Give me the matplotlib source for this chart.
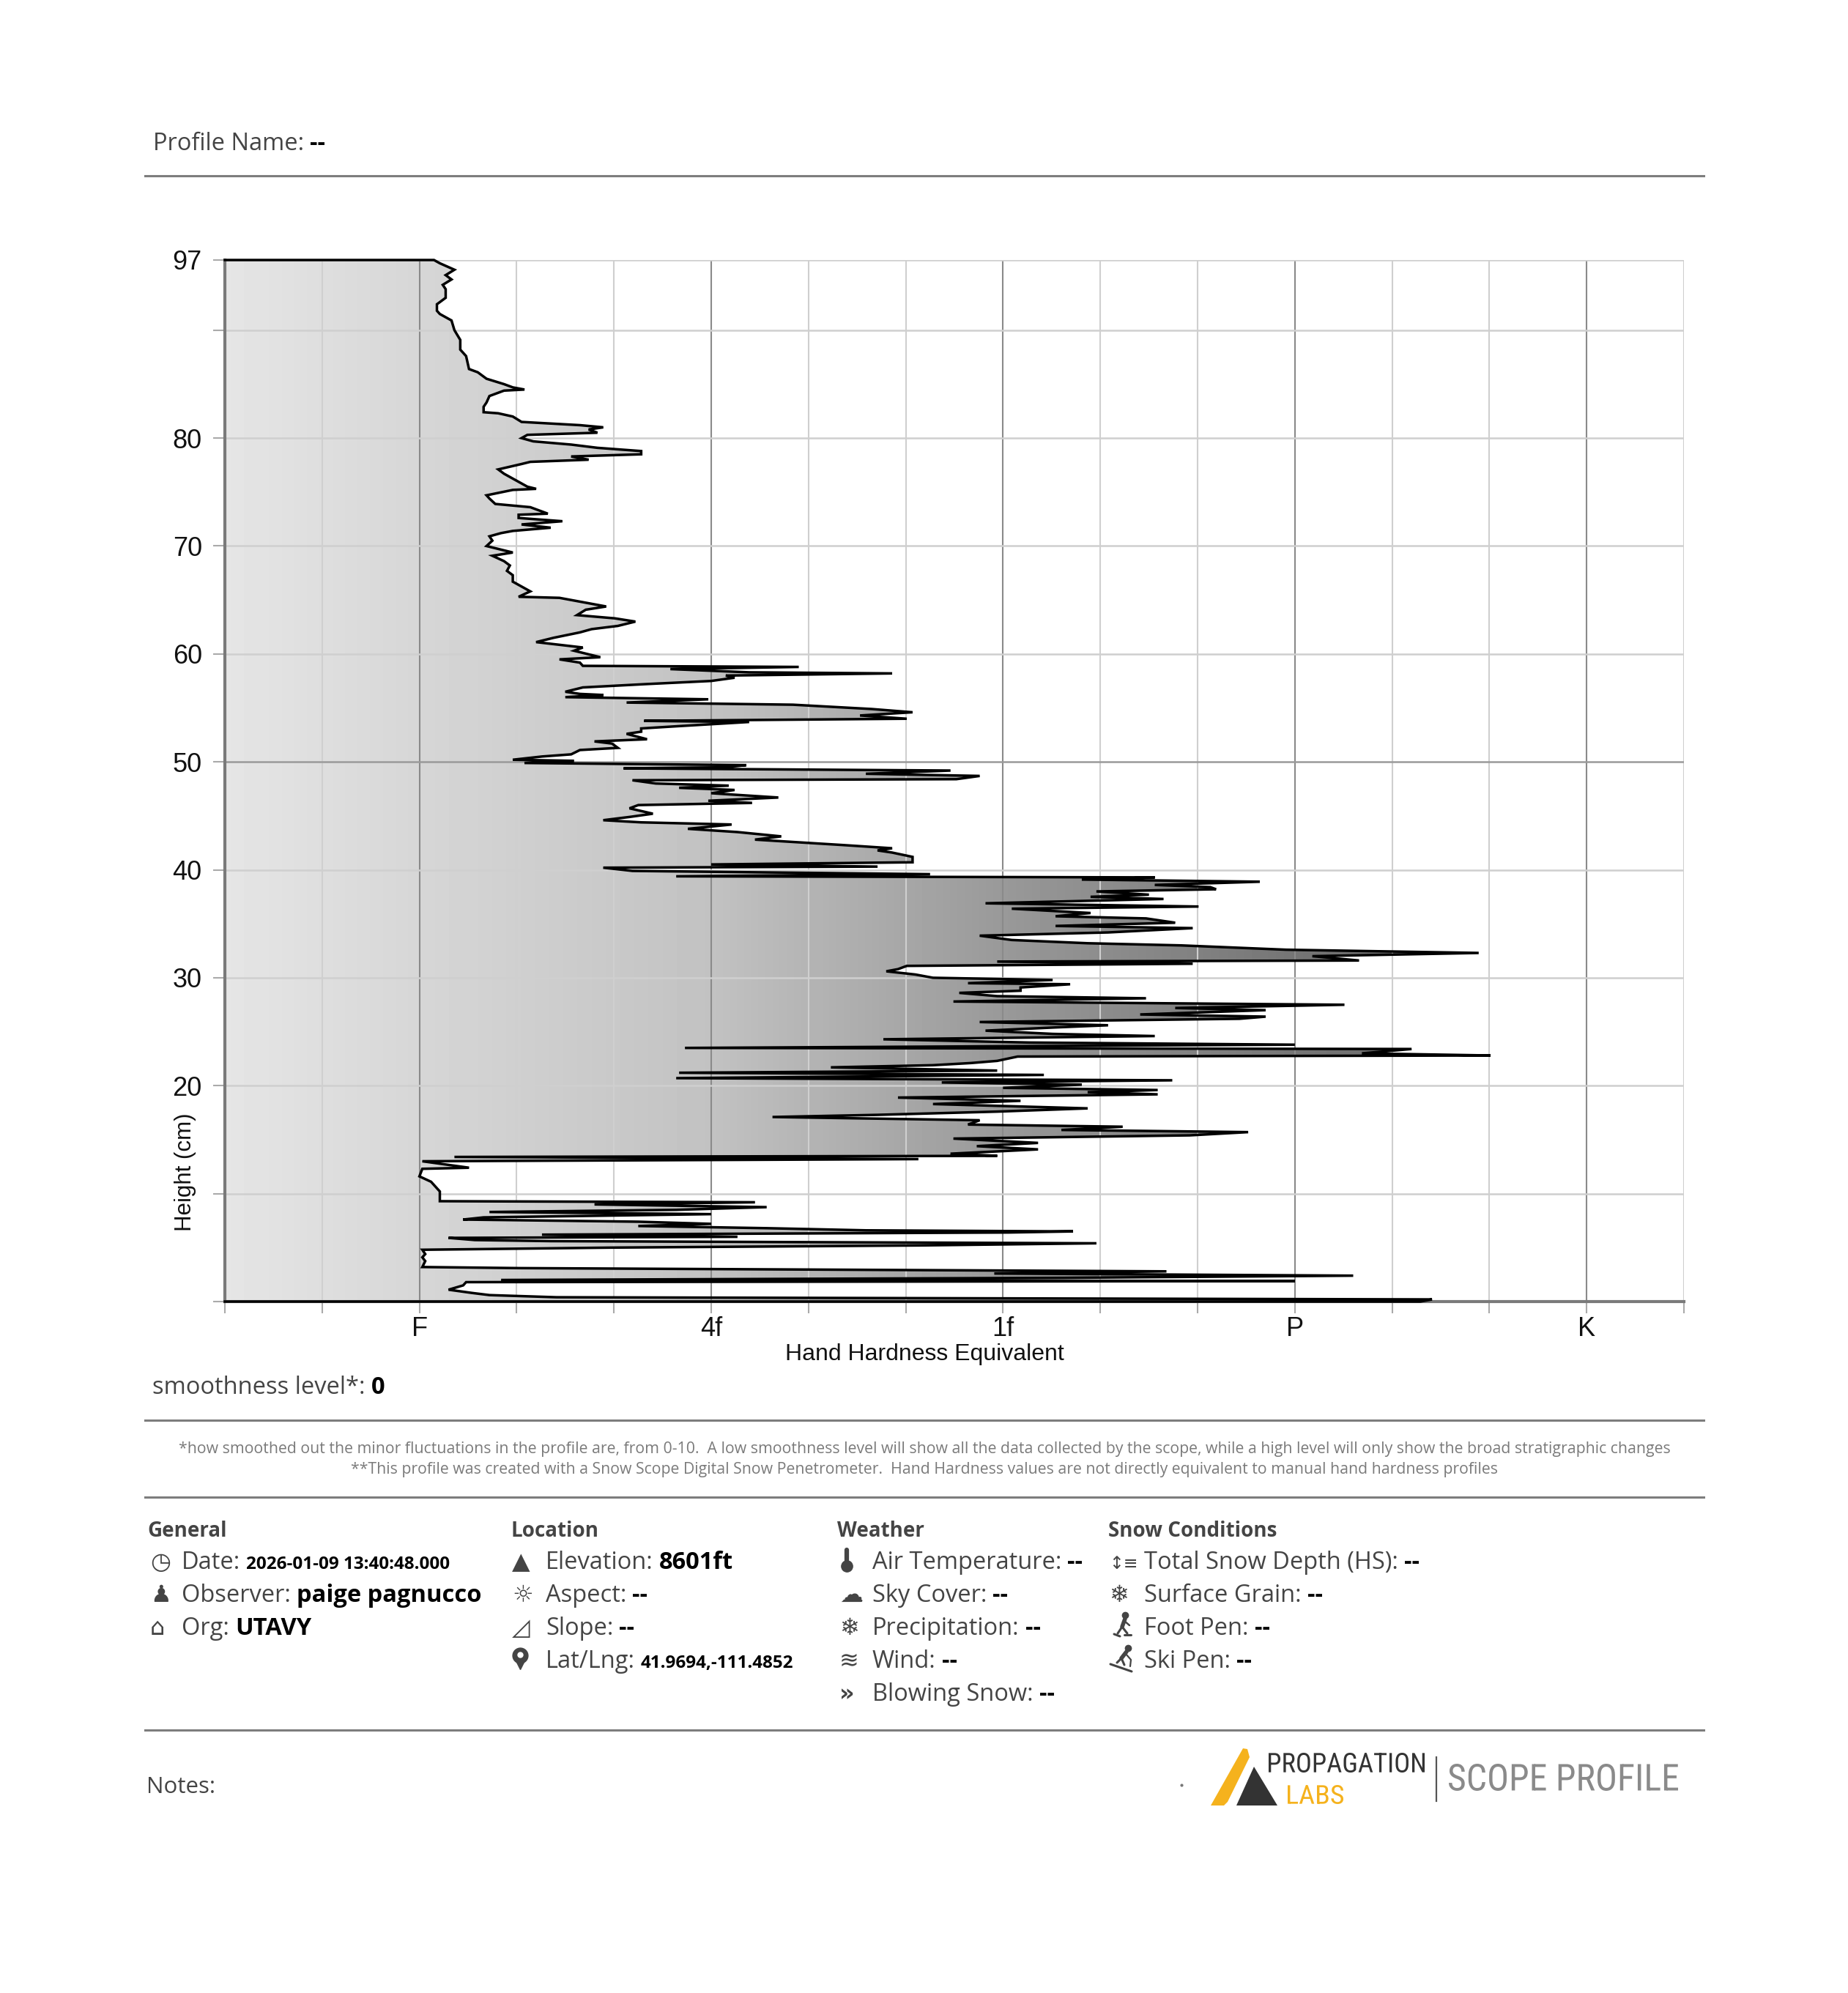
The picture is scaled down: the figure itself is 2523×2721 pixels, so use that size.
import matplotlib
matplotlib.use("Agg")
import matplotlib.pyplot as plt
import numpy as np
from matplotlib.lines import Line2D
from matplotlib.patches import Polygon, PathPatch
from matplotlib.textpath import TextPath
from matplotlib.font_manager import FontProperties
from matplotlib.transforms import Affine2D

# ---- data (height in cm, hardness index F=1 .. K=5)
height_cm = [96.5, 96.2, 95.6, 95.1, 94.7, 94.2, 93.8, 93.0, 92.4, 91.8, 91.5, 90.9, 90.0, 89.1, 88.2,
             87.6, 86.4, 86.1, 85.5, 85.0, 84.7, 84.5, 84.4, 83.9, 83.3, 82.9, 82.4, 82.3, 82.0, 81.5,
             81.2, 81.0, 80.8, 80.5, 80.3, 80.0, 79.7, 79.4, 79.1, 78.8, 78.5, 78.3, 78.0, 77.8, 77.6,
             77.1, 76.7, 76.1, 75.5, 75.3, 75.2, 74.7, 74.4, 73.9, 73.6, 73.0, 72.9, 72.6, 72.3, 72.0,
             71.7, 71.4, 71.2, 70.9, 70.5, 70.0, 69.4, 69.1, 68.6, 68.2, 67.7, 67.3, 66.7, 66.1, 65.8,
             65.3, 65.2, 64.8, 64.4, 64.1, 63.6, 63.3, 63.0, 62.6, 62.3, 62.0, 61.5, 61.1, 60.6, 60.3,
             59.7, 59.5, 59.2, 58.9, 58.8, 58.6, 58.3, 58.2, 58.0, 57.8, 57.5, 57.2, 57.0, 56.9, 56.5,
             56.3, 56.2, 56.0, 55.8, 55.5, 55.3, 54.9, 54.6, 54.3, 54.0, 53.8, 53.7, 53.3, 53.1, 52.8,
             52.6, 52.1, 51.9, 51.7, 51.3, 51.1, 50.7, 50.5, 50.2, 50.1, 49.9, 49.7, 49.5, 49.4, 49.2,
             48.9, 48.7, 48.4, 48.3, 48.0, 47.8, 47.6, 47.4, 47.1, 46.7, 46.4, 46.2, 46.0, 45.7, 45.2,
             44.9, 44.6, 44.4, 44.2, 43.8, 43.5, 43.1, 42.8, 42.3, 42.0, 41.8, 41.6, 41.2, 40.7, 40.5,
             40.3, 40.2, 39.9, 39.6, 39.4, 39.3, 39.1, 38.9, 38.6, 38.4, 38.2, 38.0, 37.7, 37.5, 37.3,
             36.9, 36.6, 36.4, 36.0, 35.7, 35.5, 35.1, 34.8, 34.6, 34.2, 33.9, 33.5, 33.2, 33.0, 32.6,
             32.3, 32.0, 31.6, 31.5, 31.3, 31.1, 30.8, 30.6, 30.3, 30.0, 29.8, 29.5, 29.4, 29.1, 28.8,
             28.6, 28.3, 28.1, 27.8, 27.5, 27.2, 27.0, 26.6, 26.4, 26.2, 25.9, 25.6, 25.4, 25.1, 24.8,
             24.6, 24.3, 24.0, 23.8, 23.5, 23.4, 23.0, 22.8, 22.7, 22.3, 22.1, 21.9, 21.7, 21.4, 21.2,
             21.0, 20.7, 20.5, 20.3, 20.1, 19.8, 19.6, 19.4, 19.2, 18.9, 18.6, 18.3, 17.9, 17.6, 17.3,
             17.1, 16.8, 16.4, 16.2, 15.9, 15.7, 15.4, 15.1, 14.7, 14.4, 14.1, 13.7, 13.5, 13.4, 13.2,
             13.0, 12.4, 12.3, 11.6, 11.1, 10.2, 10.0, 9.3, 9.2, 9.0, 8.75, 8.5, 8.3, 8.1, 7.8,
             7.6, 7.4, 7.2, 7.0, 6.8, 6.6, 6.5, 6.4, 6.2, 6.0, 5.9, 5.7, 5.6, 5.4, 5.2,
             5.0, 4.8, 4.4, 4.1, 3.75, 3.2, 3.1, 2.8, 2.6, 2.4, 2.2, 2.0, 1.9, 1.8, 1.5,
             1.1, 0.8, 0.6, 0.4, 0.2, 0.0]
hardness = [1.05, 1.07, 1.12, 1.09, 1.11, 1.08, 1.09, 1.09, 1.06, 1.06, 1.07, 1.11, 1.12, 1.14, 1.14,
            1.16, 1.17, 1.20, 1.23, 1.29, 1.32, 1.36, 1.29, 1.24, 1.23, 1.22, 1.22, 1.27, 1.32, 1.35,
            1.55, 1.63, 1.58, 1.61, 1.37, 1.35, 1.39, 1.52, 1.61, 1.76, 1.76, 1.52, 1.58, 1.38, 1.35,
            1.27, 1.29, 1.33, 1.37, 1.40, 1.32, 1.23, 1.24, 1.26, 1.38, 1.44, 1.34, 1.34, 1.49, 1.35,
            1.45, 1.32, 1.28, 1.24, 1.25, 1.23, 1.32, 1.25, 1.29, 1.31, 1.30, 1.32, 1.32, 1.36, 1.38,
            1.34, 1.48, 1.56, 1.64, 1.57, 1.54, 1.67, 1.74, 1.68, 1.59, 1.55, 1.46, 1.40, 1.56, 1.53,
            1.62, 1.48, 1.55, 1.56, 2.30, 1.86, 2.13, 2.62, 2.05, 2.08, 2.00, 1.77, 1.63, 1.56, 1.50,
            1.55, 1.63, 1.50, 1.99, 1.71, 2.28, 2.55, 2.69, 2.51, 2.67, 1.77, 2.13, 1.88, 1.76, 1.76,
            1.71, 1.78, 1.60, 1.66, 1.68, 1.55, 1.52, 1.42, 1.32, 1.53, 1.36, 2.12, 2.05, 1.70, 2.82,
            2.53, 2.92, 2.84, 1.73, 1.81, 2.06, 1.89, 2.08, 2.00, 2.23, 1.99, 2.14, 1.75, 1.72, 1.80,
            1.72, 1.63, 1.76, 2.07, 1.92, 2.09, 2.24, 2.15, 2.45, 2.62, 2.57, 2.62, 2.69, 2.69, 2.00,
            2.57, 1.63, 1.73, 2.75, 1.88, 3.52, 3.27, 3.88, 3.52, 3.71, 3.73, 3.32, 3.50, 3.30, 3.55,
            2.94, 3.67, 3.03, 3.30, 3.18, 3.49, 3.59, 3.18, 3.65, 3.36, 2.92, 3.03, 3.29, 3.61, 3.97,
            4.63, 4.06, 4.22, 2.98, 3.65, 2.67, 2.64, 2.60, 2.70, 2.76, 3.17, 2.88, 3.23, 3.06, 3.06,
            2.85, 2.98, 3.49, 2.83, 4.17, 3.59, 3.90, 3.47, 3.90, 3.81, 2.92, 3.36, 3.18, 2.94, 3.17,
            3.52, 2.59, 3.09, 4.00, 1.91, 4.40, 4.23, 4.67, 3.05, 2.98, 2.89, 2.76, 2.41, 2.98, 1.89,
            3.14, 1.88, 3.58, 2.79, 3.27, 3.00, 3.53, 3.29, 3.53, 2.64, 3.06, 2.76, 3.29, 2.98, 2.57,
            2.21, 2.92, 2.88, 3.41, 3.20, 3.84, 3.64, 2.83, 3.12, 2.91, 3.12, 2.82, 2.98, 1.12, 2.71,
            1.01, 1.17, 1.01, 1.00, 1.04, 1.07, 1.07, 1.07, 2.15, 1.60, 2.19, 1.88, 1.24, 2.00, 1.22,
            1.15, 1.75, 2.00, 1.75, 2.19, 2.53, 3.24, 3.02, 1.42, 2.09, 1.10, 1.19, 1.45, 3.32, 2.71,
            1.66, 1.01, 1.02, 1.01, 1.02, 1.01, 1.34, 3.56, 2.97, 4.20, 3.21, 1.28, 4.00, 1.16, 1.15,
            1.10, 1.18, 1.24, 1.47, 4.47, 4.43]

hardness_ticks = [1, 2, 3, 4, 5]
hardness_labels = ["F", "4f", "1f", "P", "K"]
height_ticks = [0, 10, 20, 30, 40, 50, 60, 70, 80, 90, 96.5]
height_labels = ["", "", "20", "30", "40", "50", "60", "70", "80", "", "97"]
top_height = 96.5

W, H = 2523, 2721
fig = plt.figure(figsize=(W / 100, H / 100), dpi=100)
renderer = fig.canvas.get_renderer()


def fx(x):
    return x / W


def fy(y):
    return 1 - y / H


def hline(y, x0=198, x1=2326):
    fig.add_artist(Line2D([fx(x0), fx(x1)], [fy(y), fy(y)], color="#7d7d7d", lw=2.2))


def seg(pts, lw=2.2, color="#444444"):
    fig.add_artist(Line2D([fx(p[0]) for p in pts], [fy(p[1]) for p in pts], color=color, lw=lw,
                          solid_capstyle="round", solid_joinstyle="round"))


def dot(x, y, ms, color="#444444", marker="o"):
    fig.add_artist(Line2D([fx(x)], [fy(y)], marker=marker, ms=ms, color=color, lw=0))


TXT = "#444444"
SANS = ["Open Sans", "DejaVu Sans"]


def label_value(x, y, label, value, size=23.5, vsize=None, color=TXT):
    t = fig.text(fx(x), fy(y), label, fontsize=size, color=color, family=SANS, va="baseline")
    w = t.get_window_extent(renderer).width
    fig.text(fx(x + w + 8), fy(y), value, fontsize=vsize or size, color="black",
             family=SANS, weight="bold", va="baseline")


# ---- chart
ax = fig.add_axes([307 / W, 1 - 1777 / H, 1992 / W, 1422 / H])
xmin, xmax = 1 / 3, 16 / 3
ax.set_xlim(xmin, xmax)
ax.set_ylim(0, top_height)

verts = [(xmin, top_height)] + list(zip(hardness, height_cm)) + [(xmin, 0)]
clip = Polygon(verts, closed=True, facecolor="none", edgecolor="none")
ax.add_patch(clip)
xs = np.linspace(xmin, xmax, 600)
shade = np.interp(xs, [xmin, 1, 2, 3, 4, xmax], [0.90, 0.84, 0.76, 0.60, 0.46, 0.33])
im = ax.imshow(shade[None, :], cmap="gray", vmin=0, vmax=1, aspect="auto",
               extent=[xmin, xmax, 0, top_height], interpolation="bilinear", zorder=1)
im.set_clip_path(clip)

# grid
for k in range(1, 16):
    xv = xmin + k / 3
    major = abs(xv - round(xv)) < 1e-6
    ax.axvline(xv, color="#8a8a8a" if major else "#cfcfcf", lw=1.5, zorder=2)
for hv in [10, 20, 30, 40, 50, 60, 70, 80, 90, top_height]:
    ax.axhline(hv, color="#9a9a9a" if hv == 50 else "#cfcfcf", lw=1.8, zorder=2)

ax.plot([xmin] + hardness + [xmin], [top_height] + height_cm + [0], color="black",
        lw=2.5, zorder=4, clip_on=False, solid_joinstyle="miter")

for s in ["top", "right"]:
    ax.spines[s].set_visible(False)
for s in ["left", "bottom"]:
    ax.spines[s].set_color("#7a7a7a")
    ax.spines[s].set_linewidth(3)
    ax.spines[s].set_zorder(3)

ax.set_xticks(hardness_ticks)
ax.set_xticklabels(hardness_labels)
ax.set_xticks([xmin + k / 3 for k in range(16) if k % 3 != 2], minor=True)
ax.set_yticks(height_ticks)
ax.set_yticklabels(height_labels)
ax.tick_params(axis="both", which="both", length=11.5, width=1.5, color="#aaaaaa")
ax.tick_params(axis="x", which="major", pad=3, labelsize=26, labelcolor="#111111")
ax.tick_params(axis="y", which="major", pad=11, labelsize=26, labelcolor="#111111")
for lab in ax.get_xticklabels() + ax.get_yticklabels():
    lab.set_family(["Liberation Sans", "DejaVu Sans"])

fig.text(fx(253), fy(1600), "Height (cm)", rotation=90, ha="center", va="center",
         fontsize=22.5, family=["Liberation Sans"], color="#111111")
fig.text(fx(1262), fy(1857), "Hand Hardness Equivalent", ha="center", va="baseline",
         fontsize=23, family=["Liberation Sans"], color="#111111")

# ---- header
label_value(209, 205, "Profile Name:", "--", size=23.5)
hline(240)

label_value(208, 1903, "smoothness level*:", "0", size=23.5)
hline(1939)
fig.text(fx(1262), fy(1984),
         "*how smoothed out the minor fluctuations in the profile are, from 0-10.  A low smoothness level "
         "will show all the data collected by the scope, while a high level will only show the broad "
         "stratigraphic changes", ha="center", va="baseline", fontsize=15.3, color="#7a7a7a", family=SANS)
fig.text(fx(1262), fy(2012),
         "**This profile was created with a Snow Scope Digital Snow Penetrometer.  Hand Hardness values "
         "are not directly equivalent to manual hand hardness profiles", ha="center", va="baseline",
         fontsize=15.3, color="#7a7a7a", family=SANS)
hline(2044)

# ---- info columns
header_y = 2098
row_y = [2142, 2187, 2232, 2277, 2322]
columns = [
    (201, 205, 248, "General", [
        ("◷", "Date:", "2026-01-09 13:40:48.000", 17.5),
        ("♟", "Observer:", "paige pagnucco", None),
        ("⌂", "Org:", "UTAVY", None)]),
    (698, 699, 745, "Location", [
        ("▲", "Elevation:", "8601ft", None),
        ("☼", "Aspect:", "--", None),
        ("◿", "Slope:", "--", None),
        ("pin", "Lat/Lng:", "41.9694,-111.4852", 17.5)]),
    (1143, 1146, 1191, "Weather", [
        ("thermo", "Air Temperature:", "--", None),
        ("☁", "Sky Cover:", "--", None),
        ("❄", "Precipitation:", "--", None),
        ("≋", "Wind:", "--", None),
        ("»", "Blowing Snow:", "--", None)]),
    (1513, 1514, 1562, "Snow Conditions", [
        ("↕≡", "Total Snow Depth (HS):", "--", None),
        ("❄", "Surface Grain:", "--", None),
        ("walker", "Foot Pen:", "--", None),
        ("skier", "Ski Pen:", "--", None)]),
]
for hx, ix, tx, title, rows in columns:
    fig.text(fx(hx), fy(header_y), title, fontsize=20, weight="bold", color=TXT,
             family=SANS, va="baseline")
    for (icon, lab, val, vs), y in zip(rows, row_y):
        if icon == "thermo":
            seg([(ix + 10, y - 6), (ix + 10, y - 26)], lw=4.5)
            dot(ix + 10, y - 4, 11)
        elif icon == "pin":
            dot(ix + 11, y - 17, 15)
            dot(ix + 11, y - 6, 11, marker="v")
            dot(ix + 11, y - 18, 5, color="white")
        elif icon == "walker":
            dot(ix + 22, y - 27, 6)
            seg([(ix + 22, y - 22), (ix + 18, y - 11)], lw=4)
            seg([(ix + 18, y - 11), (ix + 12, y - 2)])
            seg([(ix + 18, y - 11), (ix + 25, y - 2)])
            seg([(ix + 21, y - 19), (ix + 28, y - 13)], lw=1.8)
            seg([(ix + 7, y - 1), (ix + 15, y + 2)])
            seg([(ix + 21, y), (ix + 30, y)])
        elif icon == "skier":
            dot(ix + 26, y - 27, 6)
            seg([(ix + 24, y - 22), (ix + 17, y - 13)], lw=4)
            seg([(ix + 17, y - 13), (ix + 21, y - 4)])
            seg([(ix + 17, y - 13), (ix + 11, y - 7)])
            seg([(ix + 23, y - 19), (ix + 30, y - 11), (ix + 29, y - 2)], lw=1.6)
            seg([(ix + 2, y - 5), (ix + 31, y + 5)])
        else:
            fig.text(fx(ix), fy(y), icon, fontsize=17 if len(icon) > 1 else 23, color=TXT,
                     family=["DejaVu Sans"], va="baseline",
                     weight="bold" if icon == "»" else "normal")
        label_value(tx, y, lab, val, size=23.5, vsize=vs)

hline(2362)
fig.text(fx(200), fy(2448), "Notes:", fontsize=22.5, color=TXT, family=SANS, va="baseline")

# ---- logo
fig.add_artist(Polygon([(fx(1653), fy(2465)), (fx(1697), fy(2387)), (fx(1703), fy(2388)),
                        (fx(1706), fy(2399)), (fx(1676), fy(2460)), (fx(1671), fy(2465))],
                       closed=True, facecolor="#f5b21d", edgecolor="none", transform=fig.transFigure))
fig.add_artist(Polygon([(fx(1688), fy(2465)), (fx(1712), fy(2412)), (fx(1744), fy(2465))],
                       closed=True, facecolor="#333333", edgecolor="none", transform=fig.transFigure))
fig.add_artist(Line2D([fx(1961)] * 2, [fy(2399), fy(2459)], color="#555555", lw=1.6))
dot(1613, 2437, 2, color="#777777")


def stretched_text(s, x0, y_top, y_bot, width, color):
    tp = TextPath((0, 0), s, size=100, prop=FontProperties(family="Roboto Condensed"))
    bb = tp.get_extents()
    tr = (Affine2D().translate(-bb.x0, -bb.y0)
          .scale(width / bb.width, (y_bot - y_top) / bb.height)
          .translate(x0, H - y_bot).scale(1 / W, 1 / H) + fig.transFigure)
    fig.add_artist(PathPatch(tp, facecolor=color, edgecolor="none", transform=tr))


stretched_text("PROPAGATION", 1732, 2393, 2420, 213, "#333333")
stretched_text("LABS", 1758, 2437, 2463, 76, "#f5b21d")
stretched_text("SCOPE PROFILE", 1978, 2408, 2445, 313, "#8a8a8a")

fig.savefig("out.png", dpi=100)
